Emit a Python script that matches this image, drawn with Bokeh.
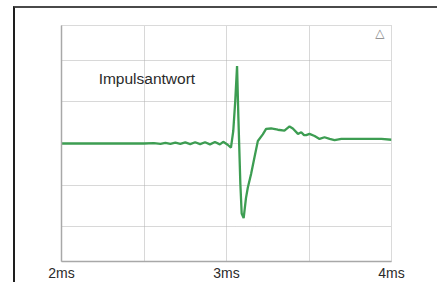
from bokeh.plotting import figure
from bokeh.models import FixedTicker, Range1d, Label, PrintfTickFormatter, InlineStyleSheet
from bokeh.embed import file_html
from bokeh.resources import INLINE

# ---- data ----
time_ms = [2.00, 2.50, 2.56, 2.60, 2.63, 2.66, 2.69, 2.72, 2.75, 2.78, 2.81,
           2.84, 2.87, 2.90, 2.93, 2.96, 2.98, 3.007, 3.027, 3.041, 3.053,
           3.064, 3.072, 3.084, 3.092, 3.104, 3.118, 3.129, 3.149, 3.169,
           3.190, 3.220, 3.240, 3.270, 3.311, 3.351, 3.382, 3.402, 3.433,
           3.453, 3.470, 3.483, 3.503, 3.534, 3.564, 3.594, 3.625, 3.655,
           3.696, 3.757, 3.818, 3.898, 3.939, 4.00]
response = [0.00, 0.00, 0.01, -0.01, 0.015, -0.01, 0.02, -0.01, 0.025, -0.015, 0.03,
            -0.015, 0.03, -0.02, 0.035, -0.02, 0.04, -0.03, -0.10, 0.30, 1.02,
            1.86, 0.62, -0.97, -1.68, -1.79, -1.31, -1.06, -0.73, -0.34,
            0.06, 0.22, 0.35, 0.36, 0.33, 0.31, 0.41, 0.36, 0.23,
            0.27, 0.20, 0.20, 0.23, 0.18, 0.11, 0.15, 0.11, 0.08,
            0.11, 0.11, 0.11, 0.11, 0.11, 0.09]

x_label_ticks = [2, 3, 4]
x_grid_ticks = [2, 2.5, 3, 3.5, 4]
y_grid_ticks = [-2, -1, 0, 1, 2]
annotation_text = "Impulsantwort"

FONT = "Liberation Sans"

p = figure(frame_width=330, frame_height=236, output_backend="svg", toolbar_location=None,
           x_range=Range1d(2, 4), y_range=Range1d(-2.83, 2.83),
           min_border_left=61, min_border_right=44, min_border_top=25,
           min_border_bottom=20)
p.background_fill_color = "white"
p.border_fill_color = "white"
p.outline_line_color = "#b5b5b5"
p.outline_line_dash = "1 1"
p.outline_line_width = 1

# outer page frame: left and top edges only
p.stylesheets = [InlineStyleSheet(css="""
:host::after {
  content: "";
  position: absolute;
  left: 13px; top: 6px; right: -2px; bottom: -2px;
  border-left: 2px solid #1e1e1e;
  border-top: 2px solid #4a4a4a;
  pointer-events: none;
  z-index: 5;
}
""")]

# grids
p.xgrid.ticker = FixedTicker(ticks=x_grid_ticks)
p.ygrid.ticker = FixedTicker(ticks=y_grid_ticks)
for g in (p.xgrid, p.ygrid):
    g.grid_line_color = "#b0b0b0"
    g.grid_line_dash = "1 1"
    g.grid_line_width = 1

# x axis
p.xaxis.ticker = FixedTicker(ticks=x_label_ticks)
p.xaxis.formatter = PrintfTickFormatter(format="%dms")
p.xaxis.axis_line_color = "#a8a8a8"
p.xaxis.axis_line_width = 1.5
p.xaxis.major_tick_line_color = None
p.xaxis.minor_tick_line_color = None
p.xaxis.major_tick_out = 0
p.xaxis.major_tick_in = 0
p.xaxis.minor_tick_out = 0
p.xaxis.major_label_standoff = 3
p.xaxis.major_label_text_font = FONT
p.xaxis.major_label_text_font_size = "14px"
p.xaxis.major_label_text_color = "#2a2a2a"

# y axis (line only)
p.yaxis.ticker = FixedTicker(ticks=[])
p.yaxis.axis_line_color = "#a8a8a8"
p.yaxis.axis_line_width = 1.5
p.yaxis.major_tick_line_color = None
p.yaxis.minor_tick_line_color = None
p.yaxis.major_tick_out = 0
p.yaxis.minor_tick_out = 0

# response curve
p.line(time_ms, response, line_color="#3d9d52", line_width=2.3)

# annotation
p.add_layout(Label(x=2.225, y=1.55, text=annotation_text, text_font=FONT,
                   text_font_size="15.5px", text_color="#2a2a2a",
                   text_baseline="middle", text_align="left"))

# small triangle icon at top right
p.add_layout(Label(x=3.93, y=2.64, text="\u25b3", text_font="DejaVu Sans",
                   text_font_size="12px", text_color="#808080",
                   text_baseline="middle", text_align="center"))

open("out.html", "w").write(file_html(p, INLINE))
